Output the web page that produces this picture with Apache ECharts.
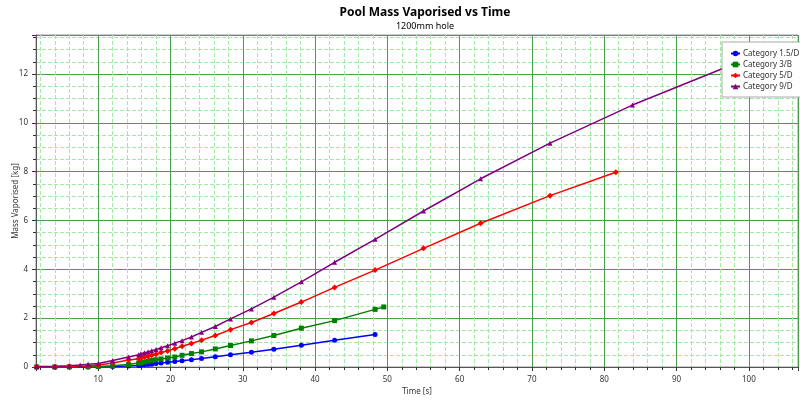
<!DOCTYPE html>
<html>
<head>
<meta charset="utf-8">
<script src="https://cdn.jsdelivr.net/npm/echarts@6/dist/echarts.min.js"></script>
<style>
  html, body { margin: 0; padding: 0; background: #fff; }
  #chart { width: 800px; height: 401px; }
</style>
</head>
<body>
<div id="chart"></div>
<script>
// time [s] and mass vaporised [kg]
const seriesNames = ['Category 1.5/D', 'Category 3/B', 'Category 5/D', 'Category 9/D'];

const blueT = [1.5, 4, 6, 8.6, 10, 12, 14.2, 15.6, 15.9, 16.4, 16.9, 17.4, 18.0, 18.7, 19.6, 20.6, 21.6, 22.9, 24.3, 26.2, 28.3, 31.2, 34.3, 38.1, 42.7, 48.3];
const blueM = [0, 0, 0, 0.005, 0.01, 0.02, 0.04, 0.06, 0.07, 0.09, 0.10, 0.11, 0.14, 0.16, 0.19, 0.23, 0.26, 0.30, 0.35, 0.42, 0.50, 0.60, 0.73, 0.89, 1.10, 1.33];

const greenT = [1.5, 4, 6, 8.6, 10, 12, 14.2, 15.6, 15.9, 16.4, 16.9, 17.4, 18.0, 18.7, 19.6, 20.6, 21.6, 22.9, 24.3, 26.2, 28.3, 31.2, 34.3, 38.1, 42.7, 48.3, 49.5];
const greenM = [0, 0, 0.005, 0.01, 0.02, 0.05, 0.10, 0.16, 0.18, 0.21, 0.24, 0.27, 0.30, 0.33, 0.37, 0.41, 0.48, 0.55, 0.62, 0.74, 0.88, 1.07, 1.29, 1.59, 1.90, 2.36, 2.46];

const redT = [1.5, 4, 6, 8.6, 10, 12, 14.2, 15.6, 15.9, 16.4, 16.9, 17.4, 18.0, 18.7, 19.6, 20.6, 21.6, 22.9, 24.3, 26.2, 28.3, 31.2, 34.3, 38.1, 42.7, 48.3, 55.0, 62.9, 72.5, 81.6];
const redM = [0.01, 0.01, 0.02, 0.04, 0.08, 0.16, 0.29, 0.34, 0.37, 0.41, 0.44, 0.48, 0.52, 0.59, 0.66, 0.75, 0.85, 0.96, 1.10, 1.29, 1.53, 1.82, 2.19, 2.66, 3.26, 3.97, 4.86, 5.89, 7.02, 7.98];

const purpleT = [1.5, 4, 6, 7.5, 8.6, 10, 12, 14.2, 15.6, 15.9, 16.4, 16.9, 17.4, 18.0, 18.7, 19.6, 20.6, 21.6, 22.9, 24.3, 26.2, 28.3, 31.2, 34.3, 38.1, 42.7, 48.3, 55.0, 62.9, 72.5, 83.9, 97.0];
const purpleM = [0.02, 0.03, 0.05, 0.08, 0.11, 0.14, 0.27, 0.41, 0.50, 0.54, 0.58, 0.62, 0.67, 0.72, 0.79, 0.87, 0.97, 1.08, 1.23, 1.42, 1.66, 1.97, 2.38, 2.86, 3.49, 4.29, 5.23, 6.39, 7.71, 9.17, 10.73, 12.3];

const FONT = 'Noto Sans';

function pairs(t, m) {
  return t.map((v, i) => [v, m[i]]);
}

function makeSeries(name, t, m, color, symbol, size) {
  return {
    name: name,
    type: 'line',
    data: pairs(t, m),
    symbol: symbol,
    symbolSize: size,
    showAllSymbol: true,
    lineStyle: { color: color, width: 1.5 },
    itemStyle: { color: color },
    emphasis: { disabled: true }
  };
}

const chart = echarts.init(document.getElementById('chart'), null, { renderer: 'canvas' });

const option = {
  animation: false,
  backgroundColor: '#fff',
  textStyle: { fontFamily: FONT },
  title: {
    text: 'Pool Mass Vaporised vs Time',
    subtext: '1200mm hole',
    left: 420,
    textAlign: 'center',
    top: 2,
    itemGap: 3,
    textStyle: { fontFamily: FONT, fontSize: 12, fontWeight: 'bold', color: '#000' },
    subtextStyle: { fontFamily: FONT, fontSize: 9, color: '#000' }
  },
  legend: {
    orient: 'vertical',
    left: 722,
    top: 42,
    padding: [6, 2, 5, 8],
    backgroundColor: '#fff',
    borderColor: '#aaa',
    borderWidth: 1,
    borderRadius: 0,
    itemWidth: 9,
    itemHeight: 7,
    itemGap: 0,
    textStyle: { fontFamily: FONT, fontSize: 8, color: '#333', lineHeight: 11, padding: [0, 0, 0, -2] },
    data: seriesNames
  },
  grid: {
    left: 36,
    right: 2,
    top: 35,
    bottom: 34,
    containLabel: false,
    outerBoundsMode: 'none',
    show: true,
    borderColor: '#999',
    borderWidth: 1
  },
  xAxis: {
    type: 'value',
    min: 1.4,
    max: 106.8,
    minInterval: 10,
    maxInterval: 10,
    name: 'Time [s]',
    nameLocation: 'middle',
    nameGap: 21,
    nameMoveOverlap: false,
    nameTextStyle: { fontFamily: FONT, fontSize: 8, color: '#333' },
    axisLine: { show: true, lineStyle: { color: '#555', width: 1 } },
    axisTick: { show: true, length: 4, lineStyle: { color: '#333' } },
    minorTick: { show: true, splitNumber: 5, length: 3, lineStyle: { color: '#333' } },
    axisLabel: { fontFamily: FONT, fontSize: 8, color: '#333', margin: 9, showMinLabel: false, showMaxLabel: false },
    splitLine: { show: true, lineStyle: { color: '#4a9e4a', width: 1 } },
    minorSplitLine: { show: true, lineStyle: { color: '#a3e8a3', width: 1, type: [4, 2] } }
  },
  yAxis: {
    type: 'value',
    min: 0,
    max: 13.6,
    interval: 2,
    name: 'Mass Vaporised [kg]',
    nameLocation: 'middle',
    nameGap: 16,
    nameMoveOverlap: false,
    nameTextStyle: { fontFamily: FONT, fontSize: 8, color: '#333' },
    axisLine: { show: true, lineStyle: { color: '#555', width: 1 } },
    axisTick: { show: true, length: 4, lineStyle: { color: '#333' } },
    minorTick: { show: true, splitNumber: 4, length: 3, lineStyle: { color: '#333' } },
    axisLabel: { fontFamily: FONT, fontSize: 8, color: '#333', margin: 8, showMaxLabel: false },
    splitLine: { show: true, lineStyle: { color: '#4a9e4a', width: 1 } },
    minorSplitLine: { show: true, lineStyle: { color: '#a3e8a3', width: 1, type: [4, 2] } }
  },
  series: [
    makeSeries(seriesNames[0], blueT, blueM, '#0000ff', 'circle', 5),
    makeSeries(seriesNames[1], greenT, greenM, '#008000', 'rect', 5),
    makeSeries(seriesNames[2], redT, redM, '#ff0000', 'diamond', 6),
    makeSeries(seriesNames[3], purpleT, purpleM, '#800080', 'triangle', 5)
  ]
};

chart.setOption(option);
</script>
</body>
</html>
